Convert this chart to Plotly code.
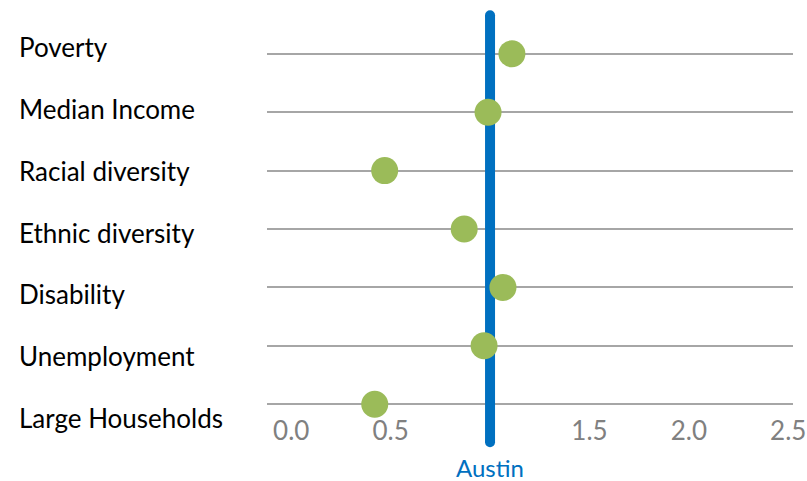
import plotly.graph_objects as go

# Indicators, ratio of each to the Austin benchmark (1.0)
categories = ["Poverty", "Median Income", "Racial diversity", "Ethnic diversity",
              "Disability", "Unemployment", "Large Households"]
ratios = [1.11, 0.99, 0.47, 0.87, 1.065, 0.97, 0.42]
benchmark = 1.0
benchmark_label = "Austin"
tick_vals = [0.0, 0.5, 1.5, 2.0, 2.5]
tick_text = ["0.0", "0.5", "1.5", "2.0", "2.5"]

FONT = "Lato"
GREEN = "#9BBB59"
BLUE = "#0070C0"
GRID = "#A6A6A6"
TICK_GRAY = "#808080"

idx = list(range(len(categories)))

fig = go.Figure()

# Benchmark line (round ends drawn as markers of the line width)
fig.add_trace(go.Scatter(
    x=[benchmark, benchmark], y=[-0.66, len(categories) - 0.35],
    mode="lines+markers",
    line=dict(color=BLUE, width=10),
    marker=dict(color=BLUE, size=10, symbol="circle"),
    hoverinfo="skip", showlegend=False,
))

# Indicator dots
fig.add_trace(go.Scatter(
    x=ratios, y=idx, mode="markers",
    marker=dict(color=GREEN, size=27, line=dict(width=0)),
    text=categories, hovertemplate="%{text}: %{x}<extra></extra>",
    showlegend=False,
))

# Category labels on the left
for i, name in enumerate(categories):
    fig.add_annotation(
        x=0, xref="paper", xanchor="left", xshift=-250,
        y=i * 1.06 - 0.12, yref="y", yanchor="middle",
        text=name, showarrow=False,
        font=dict(family=FONT, size=26, color="#000000"),
    )

# Benchmark name under the line
fig.add_annotation(
    x=benchmark, xref="x", y=0, yref="paper", yanchor="top", yshift=-3,
    text=benchmark_label, showarrow=False,
    font=dict(family=FONT, size=24, color=BLUE),
)

fig.update_layout(
    width=807, height=481,
    margin=dict(l=267, r=14, t=10, b=33, autoexpand=False),
    paper_bgcolor="white", plot_bgcolor="white",
    xaxis=dict(
        range=[-0.122, 2.524], automargin=False,
        tickvals=tick_vals, ticktext=tick_text,
        ticklabelposition="inside", ticklabeloverflow="allow",
        tickfont=dict(family=FONT, size=26, color=TICK_GRAY),
        showgrid=False, zeroline=False, showline=False, ticks="",
    ),
    yaxis=dict(
        range=[len(categories) - 0.25, -0.75], automargin=False,
        tickvals=idx, showticklabels=False,
        showgrid=True, gridcolor=GRID, gridwidth=1.5,
        zeroline=False, showline=False, ticks="",
    ),
)

fig.write_html("out.html")
